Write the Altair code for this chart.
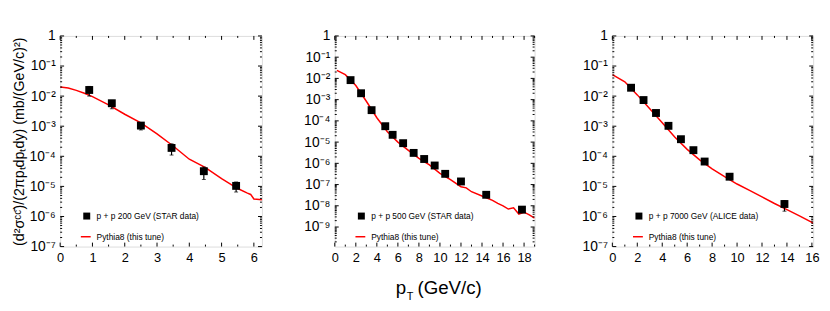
import altair as alt
import pandas as pd

FONT = "Liberation Sans"

# ---------------- data ----------------
# Panel 1: p + p 200 GeV (STAR data)
p1_x = [0.9, 1.6, 2.5, 3.45, 4.45, 5.45]
p1_y = [1.6e-2, 5.8e-3, 1.05e-3, 1.9e-4, 3.2e-5, 1.04e-5]
p1_lo = [1.0e-2, 3.8e-3, 7.5e-4, 1.1e-4, 1.7e-5, 6.5e-6]
p1_hi = [2.1e-2, 7.2e-3, 1.3e-3, 2.6e-4, 4.4e-5, 1.4e-5]
p1_line_x = [0.0, 0.25, 0.5, 0.75, 1.0, 1.5, 2.0, 2.5, 3.0, 3.5, 4.0, 4.4, 4.5, 5.0, 5.5, 5.8, 5.9, 6.0, 6.25]
p1_line_y = [2.0e-2, 1.85e-2, 1.55e-2, 1.25e-2, 9.6e-3, 5.1e-3, 2.5e-3, 1.3e-3, 5.6e-4, 2.2e-4,
             8.0e-5, 4.8e-5, 4.2e-5, 1.8e-5, 8.5e-6, 6.0e-6, 5.4e-6, 3.8e-6, 3.6e-6]

# Panel 2: p + p 500 GeV (STAR data)
p2_x = [1.5, 2.5, 3.5, 4.8, 5.5, 6.5, 7.5, 8.5, 9.5, 10.5, 12.0, 14.4, 17.8]
p2_y = [8.3e-3, 2.0e-3, 3.2e-4, 5.6e-5, 2.2e-5, 8.9e-6, 3.1e-6, 1.6e-6, 7.9e-7, 3.2e-7, 1.4e-7, 3.3e-8, 6.6e-9]
p2_lo = [7.5e-3, 1.8e-3, 2.9e-4, 5.0e-5, 2.0e-5, 8.0e-6, 2.8e-6, 1.45e-6, 7.1e-7, 2.9e-7, 1.25e-7, 2.9e-8, 5.6e-9]
p2_hi = [9.1e-3, 2.2e-3, 3.5e-4, 6.2e-5, 2.4e-5, 9.8e-6, 3.4e-6, 1.75e-6, 8.7e-7, 3.5e-7, 1.55e-7, 3.7e-8, 7.6e-9]
p2_line_x = [0.2, 1.0, 2.0, 3.0, 4.0, 5.0, 6.0, 7.0, 8.0, 9.0, 10.0, 11.0, 12.0, 12.5, 13.0, 14.0, 15.0,
             15.5, 16.0, 16.5, 17.0, 17.5, 18.0, 18.5, 19.0]
p2_line_y = [2.4e-2, 1.5e-2, 4.6e-3, 8.4e-4, 1.4e-4, 3.1e-5, 1.0e-5, 4.1e-6, 1.7e-6, 8.4e-7, 3.4e-7,
             1.7e-7, 7.9e-8, 7.0e-8, 4.6e-8, 2.9e-8, 1.8e-8, 1.3e-8, 1.0e-8, 7.0e-9, 8.0e-9, 4.1e-9,
             5.0e-9, 3.7e-9, 2.6e-9]

# Panel 3: p + p 7000 GeV (ALICE data)
p3_x = [1.5, 2.5, 3.5, 4.5, 5.5, 6.5, 7.4, 9.4, 13.8]
p3_y = [1.9e-2, 7.4e-3, 2.75e-3, 1.03e-3, 3.7e-4, 1.6e-4, 6.7e-5, 2.1e-5, 2.6e-6]
p3_lo = [1.7e-2, 6.6e-3, 2.45e-3, 9.2e-4, 3.3e-4, 1.42e-4, 6.0e-5, 1.85e-5, 1.5e-6]
p3_hi = [2.1e-2, 8.2e-3, 3.05e-3, 1.14e-3, 4.1e-4, 1.78e-4, 7.4e-5, 2.35e-5, 3.4e-6]
p3_line_x = [0.0, 1.0, 2.0, 3.0, 4.0, 5.0, 6.0, 7.0, 8.0, 9.0, 10.0, 11.0, 12.0, 13.0, 14.0, 15.0, 16.0, 16.1]
p3_line_y = [5.2e-2, 3.0e-2, 1.1e-2, 3.8e-3, 1.3e-3, 4.4e-4, 1.7e-4, 7.6e-5, 3.8e-5, 2.1e-5, 1.2e-5,
             7.4e-6, 4.5e-6, 2.7e-6, 1.7e-6, 1.05e-6, 6.4e-7, 5.8e-7]

data_labels = ["p + p 200 GeV (STAR data)", "p + p 500 GeV (STAR data)", "p + p 7000 GeV (ALICE data)"]
model_label = "Pythia8 (this tune)"
x_ticks = [[0, 1, 2, 3, 4, 5, 6], [0, 2, 4, 6, 8, 10, 12, 14, 16, 18], [0, 2, 4, 6, 8, 10, 12, 14, 16]]
x_minor = [[i * 0.5 for i in range(13)], list(range(20)), list(range(17))]
x_domains = [[0, 6.25], [0, 19], [0, 16.1]]
y_domains = [[1e-7, 1], [1.2e-10, 1], [1e-7, 1]]
y_ticks = [[10.0 ** (-k) for k in range(8)], [10.0 ** (-k) for k in range(10)], [10.0 ** (-k) for k in range(8)]]
y_title = "(d²σᶜᶜ̄)/(2πpₜdpₜdy) (mb/(GeV/c)²)"
x_title_parts = ["p", "T", "(GeV/c)"]

WIDTHS = [205, 203, 204]
H = 214

SUP = "['⁰','¹','²','³','⁴','⁵','⁶','⁷','⁸','⁹']"
Y_LABEL_EXPR = "datum.value >= 1 ? '1' : '10⁻' + " + SUP + "[round(-log(datum.value)/LN10)]"


def panel(i, xs, ys, lo, hi, lx, ly, title):
    W = WIDTHS[i]
    xscale = alt.Scale(domain=x_domains[i], nice=False, zero=False)
    yscale = alt.Scale(type="log", domain=y_domains[i], nice=False)
    xaxis = alt.Axis(values=x_ticks[i], ticks=False, domain=False, grid=False,
                     labelFont=FONT, labelFontSize=13, labelColor="black", labelPadding=5,
                     title=None, labelFlush=False)
    yaxis = alt.Axis(values=y_ticks[i], ticks=False, domain=False, grid=False,
                     labelFont=FONT, labelFontSize=14, labelColor="black", labelPadding=5,
                     labelExpr=Y_LABEL_EXPR, labelFlush=False,
                     title=title if title else None, titleFont=FONT, titleFontSize=14.5,
                     titleFontWeight="normal", titleColor="black", titlePadding=3)
    X = lambda f: alt.X(f, scale=xscale, axis=xaxis)
    Y = lambda f: alt.Y(f, scale=yscale, axis=yaxis)

    pts = pd.DataFrame({"x": xs, "y": ys, "lo": lo, "hi": hi})
    line_df = pd.DataFrame({"x": lx, "y": ly})

    layers = []
    layers.append(alt.Chart(line_df).mark_line(color="#ff0000", strokeWidth=1.5, clip=True).encode(
        x=X("x:Q"), y=Y("y:Q")))
    layers.append(alt.Chart(pts).mark_rule(color="black", strokeWidth=1.2).encode(
        x=X("x:Q"), y=Y("lo:Q"), y2="hi:Q"))
    layers.append(alt.Chart(pts).mark_tick(color="black", thickness=1, size=4, orient="horizontal").encode(
        x=X("x:Q"), y=Y("lo:Q")))
    layers.append(alt.Chart(pts).mark_tick(color="black", thickness=1, size=4, orient="horizontal").encode(
        x=X("x:Q"), y=Y("hi:Q")))
    layers.append(alt.Chart(pts).mark_square(color="black", size=64, opacity=1).encode(
        x=X("x:Q"), y=Y("y:Q")))

    # inward tick marks on all four sides
    def xt(vals, ln, top):
        d = pd.DataFrame({"v": vals})
        y0, y1 = (0, ln) if top else (H, H - ln)
        return alt.Chart(d).mark_rule(color="black", strokeWidth=1).encode(
            x=X("v:Q"), y=alt.value(y0), y2=alt.value(y1))

    def yt(vals, ln, right):
        d = pd.DataFrame({"v": vals})
        x0, x1 = (W, W - ln) if right else (0, ln)
        return alt.Chart(d).mark_rule(color="black", strokeWidth=1).encode(
            y=Y("v:Q"), x=alt.value(x0), x2=alt.value(x1))

    minor_y = []
    lo_d, hi_d = y_domains[i]
    for t in y_ticks[i]:
        for m in range(2, 10):
            v = t * m / 10.0
            if lo_d <= v < hi_d and v not in y_ticks[i]:
                minor_y.append(v)
    for top in (False, True):
        layers.append(xt(x_ticks[i], 4, top))
        layers.append(xt([v for v in x_minor[i] if v not in x_ticks[i]], 2, top))
    for right in (False, True):
        layers.append(yt(y_ticks[i], 4, right))
        layers.append(yt(minor_y, 2, right))

    # in-plot legend
    one = pd.DataFrame({"a": [0]})
    layers.append(alt.Chart(one).mark_square(color="black", size=50, opacity=1).encode(
        x=alt.value(27), y=alt.value(183)))
    layers.append(alt.Chart(one).mark_text(align="left", baseline="middle", font=FONT, fontSize=8.5,
                                           color="black").encode(
        x=alt.value(37), y=alt.value(183), text=alt.value(data_labels[i])))
    layers.append(alt.Chart(one).mark_rule(color="#ff0000", strokeWidth=1.5).encode(
        x=alt.value(21), x2=alt.value(31), y=alt.value(204)))
    layers.append(alt.Chart(one).mark_text(align="left", baseline="middle", font=FONT, fontSize=8.5,
                                           color="black").encode(
        x=alt.value(37), y=alt.value(204), text=alt.value(model_label)))

    if i == 1:
        layers.append(alt.Chart(one).mark_text(align="left", baseline="alphabetic", font=FONT,
                                               fontSize=19, color="black").encode(
            x=alt.value(62), y=alt.value(H + 48), text=alt.value(x_title_parts[0])))
        layers.append(alt.Chart(one).mark_text(align="left", baseline="alphabetic", font=FONT,
                                               fontSize=11, color="black").encode(
            x=alt.value(73), y=alt.value(H + 54), text=alt.value(x_title_parts[1])))
        layers.append(alt.Chart(one).mark_text(align="left", baseline="alphabetic", font=FONT,
                                               fontSize=19, color="black").encode(
            x=alt.value(84), y=alt.value(H + 48), text=alt.value(x_title_parts[2])))

    return alt.layer(*layers).properties(width=W, height=H)


c1 = panel(0, p1_x, p1_y, p1_lo, p1_hi, p1_line_x, p1_line_y, y_title)
c2 = panel(1, p2_x, p2_y, p2_lo, p2_hi, p2_line_x, p2_line_y, None)
c3 = panel(2, p3_x, p3_y, p3_lo, p3_hi, p3_line_x, p3_line_y, None)

left = alt.hconcat(c1, c2, spacing=40)
chart = alt.hconcat(left, c3, spacing=45).properties(
    padding={"left": 2, "top": 18, "right": 2, "bottom": 2}
).configure_view(stroke="black", strokeWidth=2).configure(background="white")

chart.save("out.html", embed_options={"renderer": "svg", "actions": False})
